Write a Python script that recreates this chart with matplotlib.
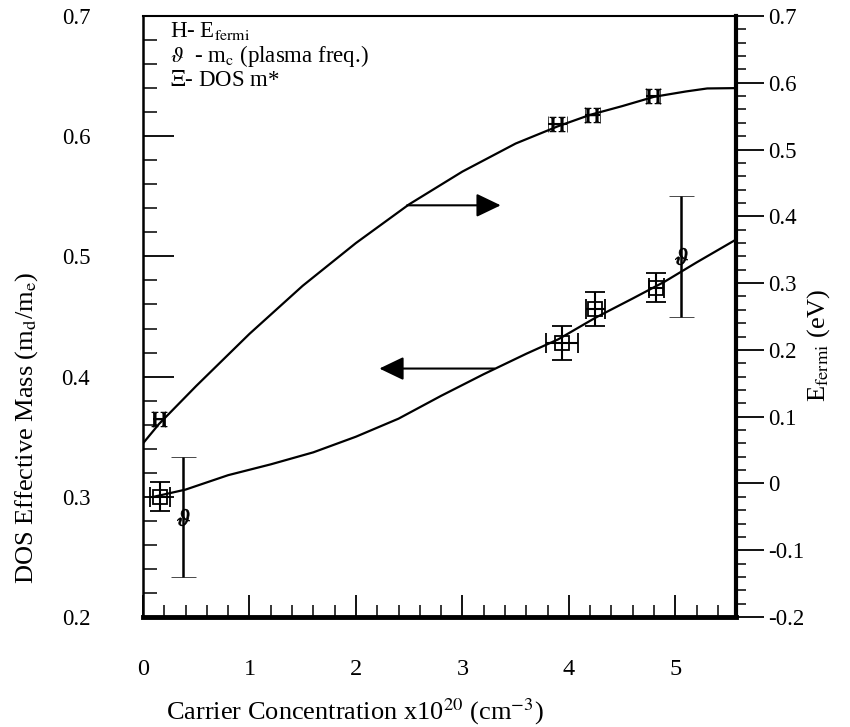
import matplotlib
matplotlib.use('Agg')
import matplotlib.pyplot as plt
from matplotlib.ticker import MultipleLocator, FuncFormatter

plt.rcParams['font.family'] = ['Liberation Serif', 'DejaVu Serif']
plt.rcParams['mathtext.fontset'] = 'stix'
plt.rcParams['axes.unicode_minus'] = False

# ---- data ----
# Fermi energy curve (right axis, eV)
x_efermi_curve = [0.0, 0.15, 0.5, 1.0, 1.5, 2.0, 2.5, 3.0, 3.5, 3.9, 4.2, 4.5, 4.8, 5.1, 5.3, 5.57]
efermi_curve = [0.060, 0.089, 0.146, 0.224, 0.296, 0.360, 0.418, 0.467, 0.509, 0.535, 0.552,
                0.565, 0.579, 0.587, 0.5915, 0.592]
# DOS effective mass curve (left axis)
x_mass_curve = [0.10, 0.4, 0.8, 1.2, 1.6, 2.0, 2.4, 2.8, 3.2, 3.6, 3.9, 4.25, 4.6, 4.9, 5.2, 5.57]
mass_curve = [0.300, 0.306, 0.318, 0.327, 0.337, 0.350, 0.365, 0.384, 0.402, 0.419, 0.431,
              0.449, 0.465, 0.479, 0.495, 0.514]

# E_fermi measured points (right axis)
efermi_x = [0.15, 3.89, 4.22, 4.79]
efermi_y = [0.096, 0.538, 0.5515, 0.5795]
efermi_xerr = [0.06, 0.09, 0.07, 0.07]

# m_c (plasma frequency) points (left axis)
mc_x = [0.38, 5.05]
mc_y = [0.283, 0.500]
mc_yerr = [0.050, 0.050]

# DOS m* points (left axis)
dos_x = [0.16, 3.94, 4.25, 4.82]
dos_y = [0.300, 0.428, 0.456, 0.474]
dos_xerr = [0.09, 0.15, 0.085, 0.07]
dos_yerr = [0.012, 0.014, 0.014, 0.012]

legend_lines = [r'H- E$_{\mathrm{fermi}}$',
                r'$\vartheta$  - m$_{\mathrm{c}}$ (plasma freq.)',
                r'$\Xi$- DOS m*']

fig = plt.figure(figsize=(8.5, 7.27), dpi=100)
ax = fig.add_axes([143 / 850, 1 - 617 / 727, 593 / 850, 601 / 727])
ax2 = ax.twinx()

ax.set_xlim(0, 5.57)
ax.set_ylim(0.2, 0.7)
ax2.set_ylim(-0.2, 0.7)

# curves
ax.plot(x_mass_curve, mass_curve, color='black', lw=1.6)
ax2.plot(x_efermi_curve, efermi_curve, color='black', lw=1.6)

# points
ax.errorbar(dos_x, dos_y, xerr=dos_xerr, yerr=dos_yerr, ls='none', marker='s', mfc='none',
            mec='black', ms=10, mew=1.3, ecolor='black', elinewidth=1.5, capsize=7, capthick=1.5)
ax.errorbar(mc_x, mc_y, yerr=mc_yerr, ls='none', marker=r'$\vartheta$', color='black', ms=12,
            mew=0.5, ecolor='black', elinewidth=1.8, capsize=9, capthick=1.8)
ax2.errorbar(efermi_x, efermi_y, xerr=efermi_xerr, ls='none', marker=r'$\mathrm{H}$',
             color='black', ms=11, mew=0.5, ecolor='black', elinewidth=1.5, capsize=6,
             capthick=1.5)

# arrows
arrow_style = '-|>,head_length=0.75,head_width=0.36'
ax2.annotate('', xy=(3.36, 0.4165), xytext=(2.48, 0.4165),
             arrowprops=dict(arrowstyle=arrow_style, color='black', lw=1.5,
                             mutation_scale=20, shrinkA=0, shrinkB=0))
ax.annotate('', xy=(2.22, 0.4067), xytext=(3.30, 0.4067),
            arrowprops=dict(arrowstyle=arrow_style, color='black', lw=1.5,
                            mutation_scale=20, shrinkA=0, shrinkB=0))

# ticks
ax.xaxis.set_major_locator(MultipleLocator(1))
ax.xaxis.set_minor_locator(MultipleLocator(0.2))
ax.yaxis.set_major_locator(MultipleLocator(0.1))
ax.yaxis.set_minor_locator(MultipleLocator(0.02))
ax2.yaxis.set_major_locator(MultipleLocator(0.1))
ax2.yaxis.set_minor_locator(MultipleLocator(0.02))

ax.xaxis.set_major_formatter(FuncFormatter(lambda v, p: f'{v:.0f}'))
ax.yaxis.set_major_formatter(FuncFormatter(lambda v, p: f'{v:.1f}'))
ax2.yaxis.set_major_formatter(FuncFormatter(lambda v, p: '0' if abs(v) < 1e-9 else f'{v:.1f}'))

ax.tick_params(axis='y', which='major', direction='in', length=22, width=1.3, pad=38,
               labelsize=16.5, right=False)
ax.tick_params(axis='y', which='minor', direction='in', length=10, width=1.1, right=False)
ax.tick_params(axis='x', which='major', direction='in', length=16, width=1.3, pad=30,
               labelsize=17.5, top=False)
ax.tick_params(axis='x', which='minor', direction='in', length=9, width=1.1, top=False)
ax2.tick_params(axis='y', which='major', direction='out', length=20, width=1.3, pad=3,
                labelsize=16.5)
ax2.tick_params(axis='y', which='minor', direction='out', length=7, width=1.1)

# spines
ax.spines['bottom'].set_linewidth(3.5)
ax.spines['left'].set_linewidth(1.8)
ax.spines['top'].set_linewidth(1.5)
ax.spines['right'].set_visible(False)
for s in ['left', 'top', 'bottom']:
    ax2.spines[s].set_visible(False)
ax2.spines['right'].set_linewidth(3.0)

# labels
ax.set_xlabel('Carrier Concentration x10$^{20}$ (cm$^{-3}$)', fontsize=19)
ax.xaxis.label.set_va('center')
ax.xaxis.set_label_coords(0.358, -0.158)
ax.set_ylabel('DOS Effective Mass (m$_{\\mathrm{d}}$/m$_{\\mathrm{e}}$)', fontsize=19)
ax.yaxis.label.set_va('center')
ax.yaxis.set_label_coords(-0.196, 0.314)
ax2.set_ylabel('E$_{\\mathrm{fermi}}$ (eV)', fontsize=19, rotation=90)
ax2.yaxis.label.set_va('center')
ax2.yaxis.set_label_coords(1.140, 0.452)

# legend text
for i, t in enumerate(legend_lines):
    ax.text(0.046, 0.975 - 0.0415 * i, t, transform=ax.transAxes, fontsize=16.5,
            ha='left', va='center')

fig.savefig('out.png', dpi=100)
